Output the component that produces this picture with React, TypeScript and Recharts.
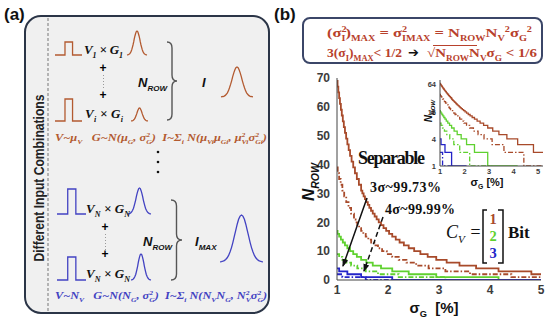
import React from 'react';
import { LineChart, Line, XAxis, YAxis } from 'recharts';

// sigma_G [%] at which N_ROW steps down, and the N_ROW value after that step
const bit1Sigma3 = [1, 1.011, 1.026, 1.042, 1.058, 1.076, 1.094, 1.114, 1.134, 1.156, 1.179, 1.203, 1.229, 1.256, 1.286, 1.318, 1.352, 1.389, 1.429, 1.473, 1.497, 1.522, 1.548, 1.575, 1.604, 1.634, 1.667, 1.701, 1.738, 1.777, 1.818, 1.863, 1.912, 1.964, 2.021, 2.083, 2.152, 2.227, 2.311, 2.406, 2.513, 2.635, 2.778, 2.946, 3.15, 3.402, 3.727, 4.167, 4.811];
const bit1Rows3 = [69, 67, 65, 63, 61, 59, 57, 55, 53, 51, 49, 47, 45, 43, 41, 39, 37, 35, 33, 31, 30, 29, 28, 27, 26, 25, 24, 23, 22, 21, 20, 19, 18, 17, 16, 15, 14, 13, 12, 11, 10, 9, 8, 7, 6, 5, 4, 3, 2];
const bit1Sigma4 = [1, 1.014, 1.042, 1.072, 1.105, 1.141, 1.181, 1.226, 1.276, 1.333, 1.364, 1.398, 1.434, 1.473, 1.516, 1.563, 1.614, 1.67, 1.733, 1.804, 1.884, 1.976, 2.083, 2.21, 2.362, 2.552, 2.795, 3.125, 3.608, 4.419];
const bit1Rows4 = [39, 37, 35, 33, 31, 29, 27, 25, 23, 21, 20, 19, 18, 17, 16, 15, 14, 13, 12, 11, 10, 9, 8, 7, 6, 5, 4, 3, 2, 1];
const bit2Sigma3 = [1, 1.011, 1.042, 1.076, 1.114, 1.156, 1.203, 1.256, 1.318, 1.389, 1.473, 1.575, 1.701, 1.863, 2.083, 2.406, 2.946, 4.167];
const bit2Rows3 = [17, 16, 15, 14, 13, 12, 11, 10, 9, 8, 7, 6, 5, 4, 3, 2, 1, 0];
const bit2Sigma4 = [1, 1.042, 1.105, 1.181, 1.276, 1.398, 1.563, 1.804, 2.21, 3.125];
const bit2Rows4 = [9, 8, 7, 6, 5, 4, 3, 2, 1, 0];
const bit3Sigma3 = [1, 1.042, 1.203, 1.473, 2.083];
const bit3Rows3 = [4, 3, 2, 1, 0];
const bit3Sigma4 = [1, 1.105, 1.563];
const bit3Rows4 = [2, 1, 0];

const sigmaTicks = [1, 2, 3, 4, 5];
const rowTicks = [0, 10, 20, 30, 40, 50, 60, 70];
const insetRowTicks = [1, 2, 4, 8, 16, 32, 64];

const BROWN = '#a84a2a';
const GREEN = '#5fd12f';
const BLUE = '#2424c8';
const A_BROWN = '#b35a30';
const A_BLUE = '#4242c2';
const DASHDOT = '5 2 1.5 2';
const SANS = "'Liberation Sans', Arial, sans-serif";
const SERIF = "'Liberation Serif', 'Times New Roman', serif";

const series = [
  { key: 'b1s', sigma: bit1Sigma3, rows: bit1Rows3, color: BROWN, dash: undefined },
  { key: 'b1d', sigma: bit1Sigma4, rows: bit1Rows4, color: BROWN, dash: DASHDOT },
  { key: 'b2s', sigma: bit2Sigma3, rows: bit2Rows3, color: GREEN, dash: undefined },
  { key: 'b2d', sigma: bit2Sigma4, rows: bit2Rows4, color: GREEN, dash: DASHDOT },
  { key: 'b3s', sigma: bit3Sigma3, rows: bit3Rows3, color: BLUE, dash: undefined },
  { key: 'b3d', sigma: bit3Sigma4, rows: bit3Rows4, color: BLUE, dash: DASHDOT },
];

const mainPoints = (sigma: number[], rows: number[]) => {
  const pts = sigma.map((s, i) => ({ s, n: rows[i] }));
  pts.push({ s: 5, n: rows[rows.length - 1] });
  return pts;
};

// log axis: stop each series where it leaves the bottom (N_ROW = 1)
const insetPoints = (sigma: number[], rows: number[]) => {
  const pts: { s: number; n: number }[] = [];
  for (let i = 0; i < sigma.length; i++) {
    if (rows[i] < 1) {
      pts.push({ s: sigma[i], n: 1 });
      return pts;
    }
    pts.push({ s: sigma[i], n: rows[i] });
  }
  pts.push({ s: 5.2, n: rows[rows.length - 1] });
  return pts;
};

type Part = string | { sub?: string; sup?: string };

function Rich({ parts, fs }: { parts: Part[]; fs: number }) {
  const out: React.ReactNode[] = [];
  let off = 0;
  const small = fs * 0.62;
  parts.forEach((p, i) => {
    if (typeof p === 'string') {
      out.push(<tspan key={i} dy={-off} fontSize={fs}>{p}</tspan>);
      off = 0;
      return;
    }
    if (p.sup) {
      const d = -fs * 0.38;
      out.push(<tspan key={i + 'p'} dy={d - off} fontSize={small}>{p.sup}</tspan>);
      off = d;
    }
    if (p.sub) {
      const d = fs * 0.28;
      const back = p.sup ? -small * 0.5 * p.sup.length : 0;
      out.push(<tspan key={i + 'b'} dx={back} dy={d - off} fontSize={small}>{p.sub}</tspan>);
      off = d;
    }
  });
  return <>{out}</>;
}

const pulse = (x: number, w: number, yb: number, yt: number) =>
  `M${x} ${yb}H${x + w * 0.37}V${yt}H${x + w * 0.65}V${yb}H${x + w}`;

const bell = (x0: number, x1: number, yb: number, yp: number) => {
  const pts: string[] = [];
  for (let i = 0; i <= 30; i++) {
    const t = -3.3 + (6.6 * i) / 30;
    const x = x0 + ((x1 - x0) * i) / 30;
    const y = yb - (yb - yp) * Math.exp((-t * t) / 2);
    pts.push(`${x.toFixed(1)} ${y.toFixed(1)}`);
  }
  return 'M' + pts.join('L');
};

const brace = (x: number, y0: number, y1: number, w: number) => {
  const m = (y0 + y1) / 2;
  const h = w / 2;
  const r = 6;
  return `M${x} ${y0}Q${x + h} ${y0} ${x + h} ${y0 + r}L${x + h} ${m - r}Q${x + h} ${m} ${x + w} ${m}Q${x + h} ${m} ${x + h} ${m + r}L${x + h} ${y1 - r}Q${x + h} ${y1} ${x} ${y1}`;
};

const tickStyle = { fontSize: 12, fontWeight: 700, fill: '#3c3c3c', fontFamily: SANS };
const insetTick = { fontSize: 7.5, fontWeight: 700, fill: '#3c3c3c', fontFamily: SANS };

function MainChart() {
  return (
    <LineChart width={250} height={240} margin={{ top: 8, right: 4, bottom: 6, left: 12 }}>
      <XAxis dataKey="s" type="number" domain={[1, 5]} ticks={sigmaTicks} allowDataOverflow height={24}
        tickLine={false} tickSize={4} tickMargin={1} stroke="#444" tick={tickStyle} />
      <XAxis xAxisId="top" orientation="top" type="number" domain={[1, 5]} ticks={sigmaTicks} height={0}
        mirror tick={false} tickSize={4} stroke="#444" />
      <YAxis type="number" domain={[0, 70]} ticks={rowTicks} allowDataOverflow width={30}
        tickLine={false} tickSize={4} tickMargin={3} stroke="#444" tick={tickStyle} />
      <YAxis yAxisId="right" orientation="right" type="number" domain={[0, 70]} ticks={rowTicks} width={0}
        mirror tick={false} tickSize={4} stroke="#444" />
      {series.map((s) => (
        <Line key={s.key} data={mainPoints(s.sigma, s.rows)} dataKey="n" type="stepAfter"
          stroke={s.color} strokeWidth={1.8} strokeDasharray={s.dash} dot={false} isAnimationActive={false} />
      ))}
    </LineChart>
  );
}

function InsetChart() {
  return (
    <LineChart width={140} height={110} margin={{ top: 6, right: 7, bottom: 4, left: 6 }}>
      <XAxis dataKey="s" type="number" domain={[1, 5.2]} ticks={sigmaTicks} allowDataOverflow height={14}
        tickLine={false} tickSize={2} tickMargin={1} stroke="#444" tick={insetTick} />
      <XAxis xAxisId="top" orientation="top" type="number" domain={[1, 5.2]} ticks={sigmaTicks} height={0}
        mirror tick={false} tickSize={2} stroke="#444" />
      <YAxis type="number" scale="log" domain={[1, 82]} ticks={insetRowTicks} allowDataOverflow width={24}
        tickLine={false} tickSize={2} tickMargin={2} stroke="#444" tick={insetTick} />
      <YAxis yAxisId="right" orientation="right" type="number" scale="log" domain={[1, 82]} ticks={insetRowTicks}
        width={0} mirror tick={false} tickSize={2} stroke="#444" />
      {series.map((s) => (
        <Line key={s.key} data={insetPoints(s.sigma, s.rows)} dataKey="n" type="stepAfter"
          stroke={s.color} strokeWidth={1.3} strokeDasharray={s.dash} dot={false} isAnimationActive={false} />
      ))}
    </LineChart>
  );
}

function PanelA() {
  const math = { fontFamily: SERIF, fontWeight: 700, fontStyle: 'italic' as const };
  const sansMath = { fontFamily: SANS, fontWeight: 700, fontStyle: 'italic' as const, fill: '#111' };
  return (
    <g>
      <text x={4} y={20} fontSize={17} fontWeight={700} fontFamily={SANS} fill="#111">(a)</text>
      <rect x={25} y={16} width={244} height={297} rx={16} fill="#f0f0f0" stroke="#2b3547" strokeWidth={2} />
      <line x1={48} y1={18} x2={48} y2={311} stroke="#777" strokeDasharray="3 2" />
      <text transform="translate(43.5,178) rotate(-90)" textAnchor="middle" fontSize={14} fontWeight={700}
        fontFamily={SANS} fill="#222" textLength={167} lengthAdjust="spacingAndGlyphs">Different Input Combinations</text>

      {/* 1-bit group */}
      <g fill="none" stroke={A_BROWN} strokeWidth={1.3}>
        <path d={pulse(55, 27, 55, 42)} />
        <path d={pulse(55, 27, 121, 99)} />
        <path d={bell(127, 147, 55, 31)} />
        <path d={bell(131, 148, 121, 108)} />
        <path d={bell(221, 253, 97, 67)} />
      </g>
      <text x={84} y={54} {...math} fill="#111" textLength={39}><Rich fs={13} parts={['V', { sub: '1' }, ' × G', { sub: '1' }]} /></text>
      <text x={85} y={118} {...math} fill="#111" textLength={38}><Rich fs={13} parts={['V', { sub: 'i' }, ' × G', { sub: 'i' }]} /></text>
      <text x={103} y={72} textAnchor="middle" fontSize={12} fontWeight={700} fontFamily={SANS}>+</text>
      <text x={103} y={99} textAnchor="middle" fontSize={12} fontWeight={700} fontFamily={SANS}>+</text>
      <line x1={103.5} y1={75} x2={103.5} y2={90} stroke="#999" strokeDasharray="1 2" />
      <path d={brace(167, 42, 120, 10)} fill="none" stroke="#555" strokeWidth={1.4} />
      <text x={138} y={87} {...sansMath}><Rich fs={13} parts={['N', { sub: 'ROW' }]} /></text>
      <text x={202} y={87} {...sansMath} fontSize={13}>I</text>
      <text x={55} y={141} {...math} fill={A_BROWN} style={{ whiteSpace: 'pre' }} textLength={212} lengthAdjust="spacingAndGlyphs">
        <Rich fs={10} parts={['V~μ', { sub: 'V' }, '   G~N(μ', { sub: 'G' }, ', σ', { sup: '2', sub: 'G' }, ')  I~Σ', { sub: 'i' }, ' N(μ', { sub: 'Vi' }, 'μ', { sub: 'Gi' }, ', μ', { sup: '2', sub: 'Vi' }, 'σ', { sup: '2', sub: 'Gi' }, ')']} />
      </text>

      <circle cx={158} cy={152} r={1.3} fill="#111" />
      <circle cx={158} cy={162} r={1.3} fill="#111" />
      <circle cx={158} cy={172} r={1.3} fill="#111" />

      {/* 3-bit group */}
      <g fill="none" stroke={A_BLUE} strokeWidth={1.3}>
        <path d={pulse(57, 29, 214, 189)} />
        <path d={pulse(57, 29, 280, 257)} />
        <path d={bell(128, 151, 214, 188)} />
        <path d={bell(131, 151, 280, 254)} />
        <path d={bell(220, 263, 262, 215)} />
      </g>
      <text x={86} y={213} {...math} fill="#111" textLength={44}><Rich fs={13} parts={['V', { sub: 'N' }, ' × G', { sub: 'N' }]} /></text>
      <text x={86} y={278} {...math} fill="#111" textLength={44}><Rich fs={13} parts={['V', { sub: 'N' }, ' × G', { sub: 'N' }]} /></text>
      <text x={105} y={231} textAnchor="middle" fontSize={12} fontWeight={700} fontFamily={SANS}>+</text>
      <text x={105} y={258} textAnchor="middle" fontSize={12} fontWeight={700} fontFamily={SANS}>+</text>
      <line x1={105.5} y1={234} x2={105.5} y2={250} stroke="#999" strokeDasharray="1 2" />
      <path d={brace(171, 200, 280, 11)} fill="none" stroke="#555" strokeWidth={1.4} />
      <text x={143} y={246} {...sansMath}><Rich fs={13} parts={['N', { sub: 'ROW' }]} /></text>
      <text x={195} y={246} {...sansMath}><Rich fs={13} parts={['I', { sub: 'MAX' }]} /></text>
      <text x={55} y={299} {...math} fill={A_BLUE} style={{ whiteSpace: 'pre' }} textLength={212} lengthAdjust="spacingAndGlyphs">
        <Rich fs={10} parts={['V~N', { sub: 'V' }, '   G~N(N', { sub: 'G' }, ', σ', { sup: '2', sub: 'G' }, ')  I~Σ', { sub: 'i' }, ' N(N', { sub: 'V' }, 'N', { sub: 'G' }, ', N', { sup: '2', sub: 'V' }, 'σ', { sup: '2', sub: 'G' }, ')']} />
      </text>
    </g>
  );
}

function PanelBText() {
  const f = { fontFamily: SERIF, fontWeight: 700, fill: '#b8412c' };
  return (
    <g>
      <text x={274} y={20} fontSize={17} fontWeight={700} fontFamily={SANS} fill="#111">(b)</text>
      <rect x={303} y={18} width={239} height={45} rx={7} fill="#fff" stroke="#3b4668" strokeWidth={2} />
      <text x={327} y={37} {...f} textLength={205} lengthAdjust="spacingAndGlyphs" style={{ whiteSpace: 'pre' }}>
        <Rich fs={12.5} parts={['(σ', { sup: '2', sub: 'I' }, ')', { sub: 'MAX' }, ' = σ', { sup: '2', sub: 'IMAX' }, ' = N', { sub: 'ROW' }, 'N', { sub: 'V' }, { sup: '2' }, 'σ', { sub: 'G' }, { sup: '2' }]} />
      </text>
      <text x={327} y={57} {...f} textLength={75} lengthAdjust="spacingAndGlyphs">
        <Rich fs={12.5} parts={['3(σ', { sub: 'I' }, ')', { sub: 'MAX' }, '< 1/2']} />
      </text>
      <text x={408} y={57} fontSize={13} fontFamily="'DejaVu Sans', sans-serif" fill="#111">➔</text>
      <text x={427} y={57} {...f} textLength={110} lengthAdjust="spacingAndGlyphs">
        <Rich fs={12.5} parts={['√N', { sub: 'ROW' }, 'N', { sub: 'V' }, 'σ', { sub: 'G' }, ' < 1/6']} />
      </text>
      <line x1={433} y1={45.5} x2={477} y2={45.5} stroke="#b8412c" strokeWidth={1} />

      {/* axis titles */}
      <text transform="translate(314,182) rotate(-90)" textAnchor="middle" fontFamily={SANS} fontWeight={700} fontStyle="italic" fill="#111">
        <Rich fs={17} parts={['N', { sub: 'ROW' }]} />
      </text>
      <text x={434} y={313} textAnchor="middle" fontFamily={SANS} fontWeight={700} fill="#111" style={{ whiteSpace: 'pre' }}>
        <Rich fs={15} parts={['σ', { sub: 'G' }, '  [%]']} />
      </text>
      <text transform="translate(432,111) rotate(-90)" textAnchor="middle" fontFamily={SANS} fontWeight={700} fontStyle="italic" fill="#111">
        <Rich fs={10} parts={['N', { sub: 'ROW' }]} />
      </text>
      <text x={487} y={186} textAnchor="middle" fontFamily={SANS} fontWeight={700} fill="#111" style={{ whiteSpace: 'pre' }}>
        <Rich fs={11} parts={['σ', { sub: 'G' }, ' [%]']} />
      </text>

      {/* annotations */}
      <text x={358} y={164} fontFamily={SERIF} fontWeight={700} fontSize={18} fill="#111" textLength={67}>Separable</text>
      <text x={370} y={192} fontFamily={SERIF} fontWeight={700} fontSize={14} fill="#111" textLength={71}>3σ~99.73%</text>
      <text x={385} y={214} fontFamily={SERIF} fontWeight={700} fontSize={14} fill="#111" textLength={70}>4σ~99.99%</text>
      <defs>
        <marker id="ah" markerWidth={8} markerHeight={8} refX={7} refY={4} orient="auto" markerUnits="userSpaceOnUse">
          <path d="M0 1L8 4L0 7z" fill="#111" />
        </marker>
      </defs>
      <line x1={367} y1={198} x2={343} y2={266} stroke="#111" strokeWidth={1.5} markerEnd="url(#ah)" />
      <line x1={383} y1={217} x2={364} y2={271} stroke="#111" strokeWidth={1.5} strokeDasharray="5 3" markerEnd="url(#ah)" />

      <text x={446} y={238} fontFamily={SERIF} fontStyle="italic" fill="#111">
        <Rich fs={18} parts={['C', { sub: 'V' }, ' =']} />
      </text>
      <path d="M487 210H483V263H487M498 210H503V263H498" fill="none" stroke="#111" strokeWidth={1.5} />
      <text x={493} y={224} textAnchor="middle" fontFamily={SERIF} fontWeight={700} fontSize={14.5} fill={BROWN}>1</text>
      <text x={493} y={241} textAnchor="middle" fontFamily={SERIF} fontWeight={700} fontSize={14.5} fill={GREEN}>2</text>
      <text x={493} y={258} textAnchor="middle" fontFamily={SERIF} fontWeight={700} fontSize={14.5} fill={BLUE}>3</text>
      <text x={508} y={238} fontFamily={SERIF} fontWeight={700} fontSize={17} fill="#111">Bit</text>
    </g>
  );
}

export default function App() {
  return (
    <div style={{ position: 'absolute', left: 0, top: 0, width: 550, height: 321, background: '#fff', overflow: 'hidden' }}>
      <div style={{ position: 'absolute', left: 295, top: 70 }}>
        <MainChart />
      </div>
      <div style={{ position: 'absolute', left: 410, top: 74 }}>
        <InsetChart />
      </div>
      <svg width={550} height={321} style={{ position: 'absolute', left: 0, top: 0, pointerEvents: 'none' }}>
        <PanelA />
        <PanelBText />
      </svg>
    </div>
  );
}
